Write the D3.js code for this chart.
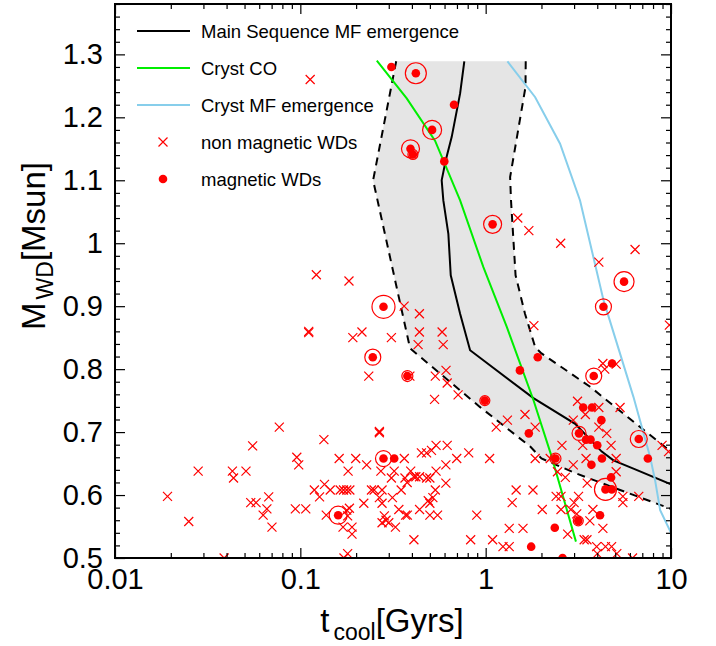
<!DOCTYPE html>
<html>
<head>
<meta charset="utf-8">
<script src="https://cdn.jsdelivr.net/npm/d3@7"></script>
<style>
body{margin:0;background:#fff;}
svg text{font-family:"Liberation Sans",Arial,sans-serif;fill:#000;}
</style>
</head>
<body>
<svg id="chart" width="716" height="646"></svg>
<script>
// axis ticks
var xTicks = [0.01, 0.1, 1, 10];
var xTickLabels = ["0.01", "0.1", "1", "10"];
var yTicks = [0.5, 0.6, 0.7, 0.8, 0.9, 1.0, 1.1, 1.2, 1.3];
var yTickLabels = ["0.5", "0.6", "0.7", "0.8", "0.9", "1", "1.1", "1.2", "1.3"];

// model curves (t_cool in Gyr, mass in Msun)
var msT = [0.767, 0.728, 0.656, 0.609, 0.579, 0.591, 0.629, 0.648, 0.728, 0.824, 1.81, 3.04, 4.23, 4.89, 6.27, 10];
var msM = [1.289, 1.238, 1.169, 1.132, 1.10, 1.068, 1.015, 0.949, 0.888, 0.830, 0.754, 0.713, 0.669, 0.655, 0.642, 0.617];
var bandLowT = [0.329, 0.247, 0.391, 0.93, 1.74, 2.0, 3.10, 5.31, 10];
var bandLowM = [1.289, 1.10, 0.833, 0.740, 0.677, 0.658, 0.634, 0.608, 0.578];
var bandHighT = [1.645, 1.64, 1.355, 1.37, 1.45, 1.63, 1.85, 2.0, 3.66, 6.81, 10];
var bandHighM = [1.289, 1.248, 1.105, 1.068, 0.949, 0.888, 0.835, 0.825, 0.772, 0.708, 0.669];
var crystCoT = [0.2586, 0.375, 0.533, 0.728, 0.972, 1.30, 1.81, 2.27, 3.07];
var crystCoM = [1.290, 1.230, 1.163, 1.068, 0.962, 0.867, 0.751, 0.661, 0.526];
var crystMfT = [1.31, 1.85, 2.52, 3.23, 4.32, 6.27, 7.71, 8.2, 8.74, 10];
var crystMfM = [1.289, 1.232, 1.158, 1.068, 0.910, 0.756, 0.661, 0.624, 0.576, 0.54];

// non magnetic WDs
var nonMagT = [0.113, 1.49, 1.71, 2.54, 6.40, 4.08, 9.8, 0.122, 0.183, 0.111, 0.111, 0.363, 0.439, 0.215, 0.192, 0.310, 0.439, 0.582, 0.432, 0.59,
  0.234, 0.39, 0.535, 0.611, 0.62, 0.71, 0.53, 1.82, 4.29, 4.39, 5.06, 3.13, 4.08, 5.31, 3.45, 2.97, 1.31, 1.63, 1.14, 1.85,
  4.08, 4.50, 2.58, 4.75, 8.95, 9.7, 3.34, 1.05, 1.85, 2.23, 3.48, 5.06, 2.97, 2.44, 2.69, 5.06, 3.53, 1.46, 1.80, 1.39,
  2.40, 2.55, 3.17, 3.0, 5.5, 5.5, 6.7, 2.02, 2.55, 2.88, 3.1, 3.79, 3.65, 4.29, 1.34, 1.59, 2.77, 1.09, 1.24, 1.34,
  3.40, 3.52, 3.97, 4.43, 4.78, 4.0, 5.1, 6.2, 0.134, 0.267, 0.267, 0.162, 0.199, 0.228, 0.364, 0.181, 0.272, 0.321, 0.310, 0.394,
  0.41, 0.42, 0.44, 0.367, 0.377, 0.48, 0.50, 0.54, 0.61, 0.698, 0.81, 0.45, 0.48, 0.54, 0.62, 0.51, 0.135, 0.145, 0.164, 0.171,
  0.178, 0.185, 0.242, 0.25, 0.276, 0.267, 0.314, 0.35, 0.519, 0.535, 0.61, 0.49, 0.50, 0.22, 0.276, 0.184, 0.178, 0.138, 0.18, 0.34,
  0.37, 0.378, 0.44, 0.50, 0.55, 0.895, 0.284, 0.29, 0.276, 0.30, 0.326, 0.17, 0.19, 0.19, 0.41, 0.83, 0.18, 0.172, 0.077, 0.0553,
  0.0957, 0.098, 0.0281, 0.043, 0.0436, 0.0509, 0.0192, 0.054, 0.0577, 0.0675, 0.066, 0.063, 0.0703, 0.025, 0.094, 0.107, 0.0388, 0.119, 0.127];
var nonMagM = [1.26, 1.04, 1.02, 1.00, 0.99, 0.97, 0.87, 0.95, 0.94, 0.86, 0.858, 0.90, 0.888, 0.859, 0.85, 0.85, 0.859, 0.859, 0.839, 0.839,
  0.789, 0.789, 0.789, 0.798, 0.778, 0.759, 0.752, 0.869, 0.809, 0.80, 0.808, 0.749, 0.739, 0.739, 0.728, 0.719, 0.719, 0.728, 0.708, 0.708,
  0.708, 0.698, 0.679, 0.679, 0.679, 0.669, 0.679, 0.658, 0.658, 0.658, 0.658, 0.658, 0.648, 0.637, 0.628, 0.637, 0.619, 0.608, 0.608, 0.588,
  0.598, 0.598, 0.598, 0.588, 0.598, 0.588, 0.598, 0.577, 0.577, 0.577, 0.570, 0.577, 0.559, 0.547, 0.547, 0.547, 0.538, 0.529, 0.518, 0.518,
  0.529, 0.529, 0.518, 0.518, 0.518, 0.507, 0.507, 0.50, 0.688, 0.699, 0.701, 0.658, 0.658, 0.648, 0.658, 0.638, 0.638, 0.638, 0.627, 0.638,
  0.629, 0.629, 0.629, 0.627, 0.62, 0.627, 0.627, 0.638, 0.648, 0.658, 0.667, 0.667, 0.667, 0.679, 0.679, 0.671, 0.617, 0.608, 0.608, 0.608,
  0.608, 0.608, 0.608, 0.608, 0.608, 0.596, 0.596, 0.608, 0.596, 0.608, 0.619, 0.591, 0.587, 0.587, 0.587, 0.579, 0.576, 0.568, 0.567, 0.577,
  0.568, 0.568, 0.577, 0.568, 0.568, 0.568, 0.567, 0.560, 0.556, 0.556, 0.549, 0.549, 0.549, 0.538, 0.529, 0.529, 0.507, 0.50, 0.708, 0.678,
  0.66, 0.648, 0.638, 0.638, 0.627, 0.638, 0.598, 0.588, 0.588, 0.597, 0.578, 0.568, 0.549, 0.558, 0.578, 0.578, 0.50, 0.608, 0.597];

// magnetic WDs, ring = radius of the surrounding circle (0 = none)
var magT = [0.31, 0.42, 0.675, 0.514, 0.393, 0.405, 0.598, 1.09, 5.58, 4.32, 0.281, 0.246, 0.378, 1.91, 1.53, 0.99, 4.81, 3.83, 3.36, 3.75,
  4.21, 1.71, 3.19, 3.48, 3.68, 4.0, 6.70, 2.38, 4.24, 3.72, 7.5, 4.75, 4.43, 4.79, 4.14, 3.16, 2.36, 1.76, 2.6, 0.281, 0.321, 0.16];
var magM = [1.28, 1.27, 1.22, 1.18, 1.15, 1.141, 1.13, 1.03, 0.939, 0.899, 0.899, 0.819, 0.789, 0.819, 0.798, 0.75, 0.809, 0.789, 0.739, 0.739,
  0.719, 0.698, 0.698, 0.688, 0.688, 0.679, 0.689, 0.658, 0.658, 0.648, 0.658, 0.628, 0.609, 0.609, 0.568, 0.559, 0.548, 0.518, 0.50, 0.658, 0.658, 0.568];
var magRing = [0, 10.5, 0, 9.5, 9, 5, 0, 9, 10, 8, 11.5, 8, 5.5, 0, 0, 5, 0, 8, 0, 0,
  0, 0, 7, 0, 0, 0, 8.5, 5.5, 0, 0, 0, 0, 11, 0, 0, 5, 0, 0, 0, 8, 0, 9];

var legendLabels = ["Main Sequence MF emergence", "Cryst CO", "Cryst MF emergence", "non magnetic WDs", "magnetic WDs"];

var padL = 115, padR = 671, padT = 4, padB = 558;
var svg = d3.select('#chart');

var x = d3.scaleLog().domain([0.01, 10]).range([padL, padR]);
var y = d3.scaleLinear().domain([0.5, 1.38]).range([padB, padT]);

svg.append('defs').append('clipPath').attr('id', 'plotclip')
  .append('rect').attr('x', padL).attr('y', padT).attr('width', padR - padL).attr('height', padB - padT);

var plot = svg.append('g').attr('clip-path', 'url(#plotclip)');
var line = d3.line().x(function(d){return x(d[0]);}).y(function(d){return y(d[1]);});

function pairs(ts, ms){ return ts.map(function(t, i){return [t, ms[i]];}); }

// shaded band between the dashed curves
var bandPoly = pairs(bandLowT, bandLowM).concat(pairs(bandHighT, bandHighM).reverse());
plot.append('path').attr('d', line(bandPoly) + 'Z').attr('fill', '#e5e5e5').attr('stroke', 'none');

plot.append('path').attr('d', line(pairs(bandLowT, bandLowM)))
  .attr('fill', 'none').attr('stroke', '#000').attr('stroke-width', 2).attr('stroke-dasharray', '8,6');
plot.append('path').attr('d', line(pairs(bandHighT, bandHighM)))
  .attr('fill', 'none').attr('stroke', '#000').attr('stroke-width', 2).attr('stroke-dasharray', '8,6');

plot.append('path').attr('d', line(pairs(msT, msM)))
  .attr('fill', 'none').attr('stroke', '#000').attr('stroke-width', 2);
plot.append('path').attr('d', line(pairs(crystCoT, crystCoM)))
  .attr('fill', 'none').attr('stroke', '#00ee00').attr('stroke-width', 2);
plot.append('path').attr('d', line(pairs(crystMfT, crystMfM)))
  .attr('fill', 'none').attr('stroke', '#87ceeb').attr('stroke-width', 2);

var crossPath = 'M-4.5,-4.5L4.5,4.5M-4.5,4.5L4.5,-4.5';

plot.selectAll('.nonmag').data(pairs(nonMagT, nonMagM)).enter().append('path')
  .attr('class', 'nonmag')
  .attr('transform', function(d){return 'translate(' + x(d[0]) + ',' + y(d[1]) + ')';})
  .attr('d', crossPath).attr('stroke', '#ff0000').attr('stroke-width', 1.2).attr('fill', 'none');

var mag = magT.map(function(t, i){return [t, magM[i], magRing[i]];});
plot.selectAll('.mag').data(mag).enter().append('circle')
  .attr('class', 'mag')
  .attr('cx', function(d){return x(d[0]);}).attr('cy', function(d){return y(d[1]);})
  .attr('r', 4.3).attr('fill', '#ff0000');
plot.selectAll('.ring').data(mag.filter(function(d){return d[2] > 0;})).enter().append('circle')
  .attr('class', 'ring')
  .attr('cx', function(d){return x(d[0]);}).attr('cy', function(d){return y(d[1]);})
  .attr('r', function(d){return d[2];}).attr('fill', 'none').attr('stroke', '#ff0000').attr('stroke-width', 1.2);

// minor ticks
var xMinor = [];
[0.01, 0.1, 1].forEach(function(dec){ for (var k = 2; k <= 9; k++) xMinor.push(dec * k); });
var yMinor = d3.range(50, 139, 2).map(function(v){return v / 100;}).filter(function(v){return v * 10 % 1 > 0.01 && v * 10 % 1 < 0.99;});

function styleAxis(g){
  g.select('.domain').remove();
  g.selectAll('.tick line').attr('stroke', '#000').attr('stroke-width', 1.2);
  g.selectAll('.tick text').attr('font-size', 29).attr('fill', '#000')
    .style('font-family', '"Liberation Sans", Arial, sans-serif');
}

svg.append('g').attr('transform', 'translate(0,' + padB + ')')
  .call(d3.axisBottom(x).tickValues(xTicks).tickSize(-10).tickPadding(10)
    .tickFormat(function(d, i){return xTickLabels[i];})).call(styleAxis);
svg.append('g').attr('transform', 'translate(0,' + padB + ')')
  .call(d3.axisBottom(x).tickValues(xMinor).tickSize(-5).tickFormat('')).call(styleAxis);
svg.append('g').attr('transform', 'translate(0,' + padT + ')')
  .call(d3.axisTop(x).tickValues(xTicks).tickSize(-10).tickFormat('')).call(styleAxis);
svg.append('g').attr('transform', 'translate(0,' + padT + ')')
  .call(d3.axisTop(x).tickValues(xMinor).tickSize(-5).tickFormat('')).call(styleAxis);

svg.append('g').attr('transform', 'translate(' + padL + ',0)')
  .call(d3.axisLeft(y).tickValues(yTicks).tickSize(-10).tickPadding(12)
    .tickFormat(function(d, i){return yTickLabels[i];})).call(styleAxis);
svg.append('g').attr('transform', 'translate(' + padL + ',0)')
  .call(d3.axisLeft(y).tickValues(yMinor).tickSize(-5).tickFormat('')).call(styleAxis);
svg.append('g').attr('transform', 'translate(' + padR + ',0)')
  .call(d3.axisRight(y).tickValues(yTicks).tickSize(-10).tickFormat('')).call(styleAxis);
svg.append('g').attr('transform', 'translate(' + padR + ',0)')
  .call(d3.axisRight(y).tickValues(yMinor).tickSize(-5).tickFormat('')).call(styleAxis);

svg.append('rect').attr('x', padL).attr('y', padT).attr('width', padR - padL).attr('height', padB - padT)
  .attr('fill', 'none').attr('stroke', '#000').attr('stroke-width', 2);

// legend
var legend = svg.append('g');
var rowY = [31, 68, 105, 142, 179];
var lineColors = ['#000', '#00ee00', '#87ceeb'];
lineColors.forEach(function(c, i){
  legend.append('line').attr('x1', 137).attr('x2', 190).attr('y1', rowY[i]).attr('y2', rowY[i])
    .attr('stroke', c).attr('stroke-width', 2);
});
legend.append('path').attr('transform', 'translate(163,' + rowY[3] + ')').attr('d', crossPath)
  .attr('stroke', '#ff0000').attr('stroke-width', 1.2).attr('fill', 'none');
legend.append('circle').attr('cx', 163).attr('cy', rowY[4]).attr('r', 4.3).attr('fill', '#ff0000');
legend.selectAll('.lt').data(legendLabels).enter().append('text')
  .attr('class', 'lt').attr('x', 201).attr('y', function(d, i){return rowY[i] + 6.5;})
  .attr('font-size', 18.5).text(function(d){return d;});

// axis titles
var xt = svg.append('text').attr('x', 392).attr('y', 632).attr('text-anchor', 'middle').attr('font-size', 33);
xt.append('tspan').text('t');
xt.append('tspan').attr('font-size', 23).attr('dx', 4).attr('dy', 8).text('cool');
xt.append('tspan').attr('dy', -8).text('[Gyrs]');

var yt = svg.append('text').attr('transform', 'translate(45,246) rotate(-90)').attr('text-anchor', 'middle').attr('font-size', 33);
yt.append('tspan').text('M');
yt.append('tspan').attr('font-size', 23).attr('dx', 3).attr('dy', 8).text('WD');
yt.append('tspan').attr('dy', -8).text('[Msun]');
</script>
</body>
</html>
